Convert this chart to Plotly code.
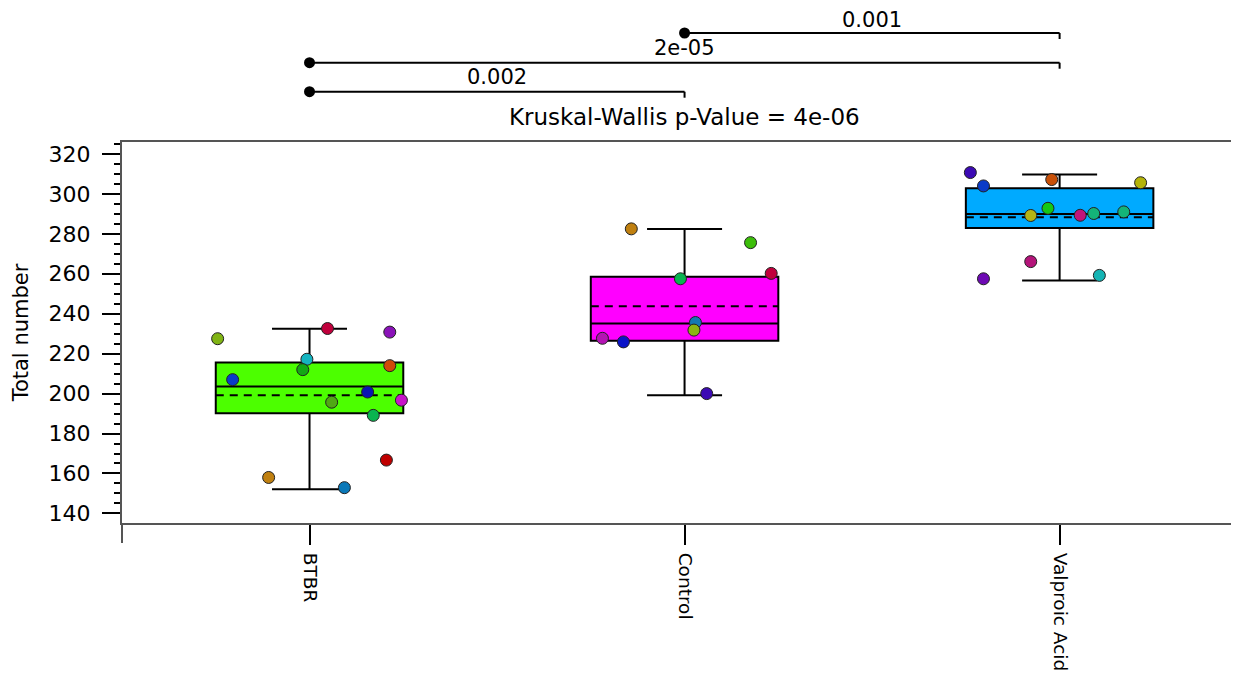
import plotly.graph_objects as go

# ---------------- data ----------------
categories = ["BTBR", "Control", "Valproic Acid"]

btbr_values = [227.5, 232.6, 230.8, 217.2, 212.0, 214.0, 207.0, 200.8, 195.7, 196.7, 189.1, 166.7, 158.0, 152.9]
btbr_jitter = [-0.245, 0.048, 0.214, -0.007, -0.018, 0.214, -0.205, 0.155, 0.059, 0.245, 0.170, 0.205, -0.109, 0.093]
btbr_colors = ["#80b414", "#c0003c", "#8a12b8", "#14b4c0", "#14a814", "#d04a08", "#0a3cc8",
               "#0a14b4", "#50a814", "#c814c8", "#0ab450", "#c00000", "#c08010", "#0a78b8"]

control_values = [282.5, 275.6, 260.2, 257.5, 235.6, 231.8, 227.7, 225.9, 200.0]
control_jitter = [-0.142, 0.176, 0.231, -0.011, 0.029, 0.025, -0.219, -0.163, 0.059]
control_colors = ["#c08010", "#3cbe0a", "#c0003c", "#0ab450", "#1478b4", "#8cb414", "#b414b4", "#0a14c8", "#3c0ab4"]

valproic_values = [310.7, 304.0, 307.2, 305.6, 292.8, 289.2, 289.3, 290.2, 291.0, 266.1, 257.5, 259.2]
valproic_jitter = [-0.238, -0.203, -0.021, 0.216, -0.031, -0.077, 0.055, 0.091, 0.171, -0.077, -0.203, 0.106]
valproic_colors = ["#3c0ab4", "#0a3cc8", "#c85008", "#b4b40a", "#14c814", "#b4b414", "#c0147a",
                   "#14b478", "#14b478", "#b4147a", "#6e0ab4", "#14b4b4"]

# box statistics
box_q1 = [190.2, 226.5, 282.9]
box_median = [203.5, 235.1, 290.0]
box_q3 = [215.6, 258.5, 302.9]
box_lower = [152.1, 199.2, 256.7]
box_upper = [232.5, 282.4, 309.7]
box_mean = [199.2, 243.8, 288.3]
box_fill = ["#4cff00", "#ff00ff", "#00aaff"]

# pairwise comparisons (group a, group b, p-value label)
comparisons = [(1, 2, "0.001"), (0, 2, "2e-05"), (0, 1, "0.002")]
kruskal_label = "Kruskal-Wallis p-Value = 4e-06"

y_ticks = [140, 160, 180, 200, 220, 240, 260, 280, 300, 320]

# ---------------- figure ----------------
FONT = "DejaVu Sans"
BOX_W = 0.5
fig = go.Figure()

for i, cat in enumerate(categories):
    fig.add_trace(go.Box(
        x=[i], q1=[box_q1[i]], median=[box_median[i]], q3=[box_q3[i]],
        lowerfence=[box_lower[i]], upperfence=[box_upper[i]],
        boxpoints=False, width=BOX_W, whiskerwidth=0.4,
        fillcolor=box_fill[i], line=dict(color="black", width=2),
        name=cat, showlegend=False, hoverinfo="skip",
    ))
    # dashed mean line across the box
    fig.add_trace(go.Scatter(
        x=[i - BOX_W / 2, i + BOX_W / 2], y=[box_mean[i], box_mean[i]], mode="lines",
        line=dict(color="black", width=2, dash="8px,6px"),
        showlegend=False, hoverinfo="skip",
    ))

groups = [(btbr_values, btbr_jitter, btbr_colors),
          (control_values, control_jitter, control_colors),
          (valproic_values, valproic_jitter, valproic_colors)]
for i, (vals, jit, cols) in enumerate(groups):
    fig.add_trace(go.Scatter(
        x=[i + j for j in jit], y=vals, mode="markers",
        marker=dict(size=12, color=cols, line=dict(color="#222222", width=1)),
        showlegend=False, cliponaxis=False, hoverinfo="y",
    ))

# significance bars
levels = [1.2861, 1.2081, 1.1320]
label_levels = [1.3215, 1.2467, 1.1706]
shapes = []
annotations = []
for (a, b, lab), ly, ty in zip(comparisons, levels, label_levels):
    shapes.append(dict(type="line", xref="x", yref="paper", x0=a, x1=b, y0=ly, y1=ly,
                       line=dict(color="black", width=2)))
    shapes.append(dict(type="line", xref="x", yref="paper", xsizemode="pixel", ysizemode="pixel",
                       xanchor=b, yanchor=ly, x0=0, x1=0, y0=0, y1=-6,
                       line=dict(color="black", width=2)))
    shapes.append(dict(type="circle", xref="x", yref="paper", xsizemode="pixel", ysizemode="pixel",
                       xanchor=a, yanchor=ly, x0=-5.5, x1=5.5, y0=-5.5, y1=5.5,
                       fillcolor="black", line=dict(color="black", width=0)))
    annotations.append(dict(x=(a + b) / 2, y=ty, xref="x", yref="paper", text=lab, showarrow=False,
                            font=dict(family=FONT, size=21, color="black"), yanchor="middle",
                            borderpad=0))

annotations.append(dict(x=1, y=1.0656, xref="x", yref="paper", text=kruskal_label, showarrow=False,
                        font=dict(family=FONT, size=23, color="black"), yanchor="middle"))

# small extension of the left axis below the x axis
shapes.append(dict(type="line", xref="paper", yref="paper", x0=0, x1=0, y0=0, y1=-0.0525,
                   line=dict(color="#555555", width=2)))

fig.update_layout(
    width=1223, height=669,
    margin=dict(l=114, r=0, t=134, b=154, autoexpand=False),
    plot_bgcolor="white", paper_bgcolor="white",
    shapes=shapes, annotations=annotations,
    font=dict(family=FONT, color="black"),
    xaxis=dict(
        range=[-0.5, 2.457], tickmode="array", tickvals=[0, 1, 2], ticktext=categories,
        tickangle=90, ticks="outside", ticklen=20, tickwidth=2, tickcolor="black",
        ticklabelstandoff=4, automargin=False,
        showline=True, linecolor="#555555", linewidth=2, mirror=True,
        showgrid=False, zeroline=False, tickfont=dict(family=FONT, size=18.5),
    ),
    yaxis=dict(
        range=[135.2, 326], tickmode="array", tickvals=y_ticks,
        ticks="outside", ticklen=18, tickwidth=2, tickcolor="black",
        ticklabelstandoff=7, automargin=False,
        minor=dict(dtick=5, ticks="outside", ticklen=6, tickwidth=2, tickcolor="black", showgrid=False),
        showline=True, linecolor="#555555", linewidth=2, mirror=False,
        showgrid=False, zeroline=False, tickfont=dict(family=FONT, size=22),
        title=dict(text="Total number", font=dict(family=FONT, size=21), standoff=14),
    ),
)

fig.write_html("out.html")
